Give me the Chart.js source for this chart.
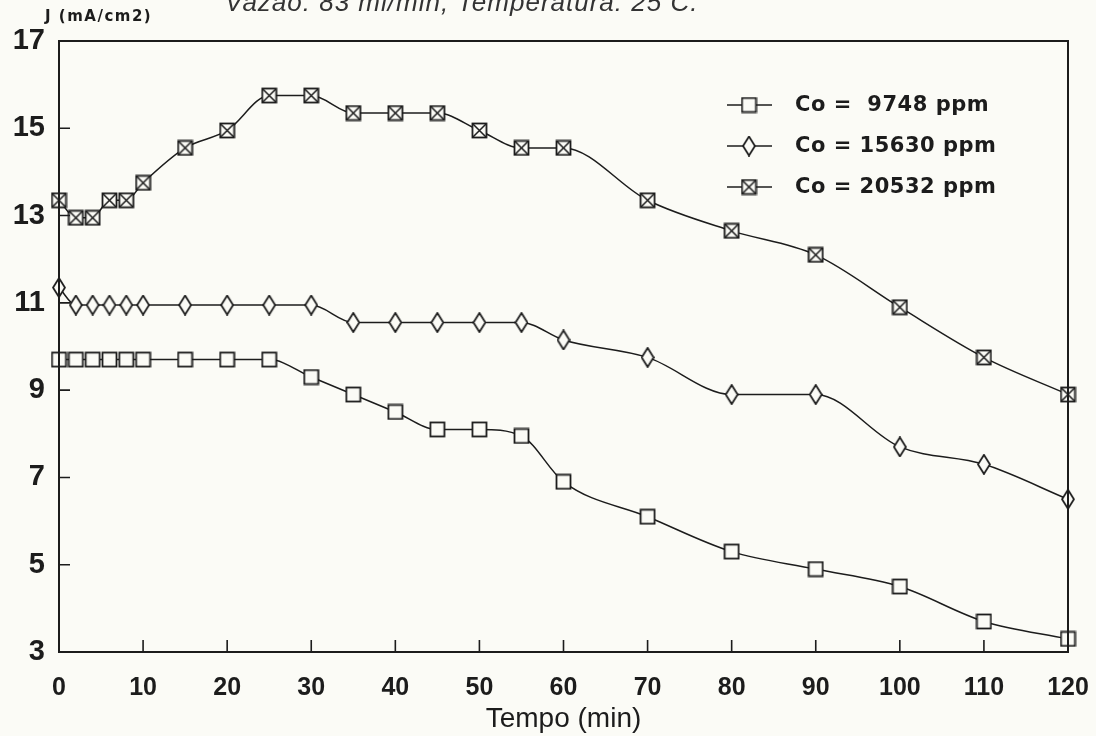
<!DOCTYPE html>
<html>
<head>
<meta charset="utf-8">
<script src="https://cdn.jsdelivr.net/npm/chart.js@4.4.1/dist/chart.umd.min.js"></script>
<style>
  html, body { margin: 0; padding: 0; background: #fbfbf6; }
  #wrap { position: relative; width: 1096px; height: 736px; }
</style>
</head>
<body>
<div id="wrap"><canvas id="jChart" width="1096" height="736"></canvas></div>
<script>
// --- dados ---
const tempo = [0, 2, 4, 6, 8, 10, 15, 20, 25, 30, 35, 40, 45, 50, 55, 60, 70, 80, 90, 100, 110, 120];
const serie9748 = [9.7, 9.7, 9.7, 9.7, 9.7, 9.7, 9.7, 9.7, 9.7, 9.3, 8.9, 8.5, 8.1, 8.1, 7.95, 6.9, 6.1, 5.3, 4.9, 4.5, 3.7, 3.3];
const serie15630 = [11.35, 10.95, 10.95, 10.95, 10.95, 10.95, 10.95, 10.95, 10.95, 10.95, 10.55, 10.55, 10.55, 10.55, 10.55, 10.15, 9.75, 8.9, 8.9, 7.7, 7.3, 6.5];
const serie20532 = [13.35, 12.95, 12.95, 13.35, 13.35, 13.75, 14.55, 14.95, 15.75, 15.75, 15.35, 15.35, 15.35, 14.95, 14.55, 14.55, 13.35, 12.65, 12.1, 10.9, 9.75, 8.9];
const legendas = ['Co =  9748 ppm', 'Co = 15630 ppm', 'Co = 20532 ppm'];
const yTicks = [3, 5, 7, 9, 11, 13, 15, 17];
const xTicks = [0, 10, 20, 30, 40, 50, 60, 70, 80, 90, 100, 110, 120];

const INK = '#1c1c1c';

// --- marcadores desenhados a mao ---
function makeMarker(kind) {
    const c = document.createElement('canvas');
    const w = kind === 'diamond' ? 14 : 17;
    const h = kind === 'diamond' ? 21 : 17;
    c.width = w; c.height = h;
    const g = c.getContext('2d');
    g.strokeStyle = INK;
    g.fillStyle = '#fbfbf6';
    g.lineWidth = 1.8;
    if (kind === 'diamond') {
        g.beginPath();
        g.moveTo(w / 2, 1); g.lineTo(w - 1, h / 2); g.lineTo(w / 2, h - 1); g.lineTo(1, h / 2);
        g.closePath(); g.fill(); g.stroke();
    } else {
        g.fillRect(1.5, 1.5, w - 3, h - 3);
        g.strokeRect(1.5, 1.5, w - 3, h - 3);
        if (kind === 'cross') {
            g.lineWidth = 1.5;
            g.beginPath();
            g.moveTo(2, 2); g.lineTo(w - 2, h - 2);
            g.moveTo(w - 2, 2); g.lineTo(2, h - 2);
            g.stroke();
        }
    }
    return c;
}
const markers = [makeMarker('square'), makeMarker('diamond'), makeMarker('cross')];

function toPoints(ys) {
    return tempo.map((t, i) => ({ x: t, y: ys[i] }));
}

// --- moldura, tracos internos, legenda e textos ---
const framePlugin = {
    id: 'frame',
    afterDatasetsDraw(chart) {
        const { ctx, chartArea: a, scales } = chart;
        ctx.save();
        ctx.strokeStyle = INK;
        ctx.lineWidth = 2;
        ctx.strokeRect(a.left, a.top, a.right - a.left, a.bottom - a.top);

        // tracos para dentro
        ctx.lineWidth = 1.6;
        ctx.beginPath();
        xTicks.slice(1, -1).forEach(v => {
            const x = scales.x.getPixelForValue(v);
            ctx.moveTo(x, a.bottom); ctx.lineTo(x, a.bottom - 12);
        });
        yTicks.slice(1, -1).forEach(v => {
            const y = scales.y.getPixelForValue(v);
            ctx.moveTo(a.left, y); ctx.lineTo(a.left + 11, y);
        });
        ctx.stroke();

        // legenda
        const lx = 727, ly = 105, gap = 41;
        ctx.font = 'bold 21px "DejaVu Sans", sans-serif';
        ctx.letterSpacing = '0.5px';
        ctx.fillStyle = INK;
        ctx.textBaseline = 'middle';
        legendas.forEach((txt, i) => {
            const y = ly + i * gap;
            ctx.lineWidth = 1.4;
            ctx.beginPath(); ctx.moveTo(lx, y); ctx.lineTo(lx + 45, y); ctx.stroke();
            const m = markers[i];
            ctx.drawImage(m, lx + 22 - m.width / 2, y - m.height / 2);
            ctx.fillText(txt, lx + 68, y + 1);
        });

        // rotulo do eixo y
        ctx.font = 'bold 15px "DejaVu Sans", sans-serif';
        ctx.letterSpacing = '1.5px';
        ctx.fillText('J (mA/cm2)', 45, 17);

        // titulo cortado no topo
        ctx.font = 'italic 26px "Liberation Sans", Arial, sans-serif';
        ctx.letterSpacing = '1px';
        ctx.textBaseline = 'alphabetic';
        ctx.fillStyle = '#333';
        ctx.fillText('Vazão: 83 ml/min; Temperatura: 25 C.', 225, 11);
        ctx.restore();
    }
};

const commonDs = {
    borderColor: INK,
    borderWidth: 1.5,
    cubicInterpolationMode: 'monotone',
    clip: false,
    pointRadius: 8,
    pointHoverRadius: 8
};

new Chart(document.getElementById('jChart').getContext('2d'), {
    type: 'line',
    data: {
        datasets: [
            { ...commonDs, label: legendas[0], data: toPoints(serie9748), pointStyle: markers[0] },
            { ...commonDs, label: legendas[1], data: toPoints(serie15630), pointStyle: markers[1] },
            { ...commonDs, label: legendas[2], data: toPoints(serie20532), pointStyle: markers[2] }
        ]
    },
    options: {
        responsive: false,
        animation: false,
        layout: { padding: { top: 41, right: 28, left: 0, bottom: 0 } },
        plugins: { legend: { display: false }, tooltip: { enabled: false } },
        scales: {
            x: {
                type: 'linear', min: 0, max: 120,
                afterBuildTicks: s => { s.ticks = xTicks.map(v => ({ value: v })); },
                afterFit: s => { s.height = 84; s.paddingLeft = 0; s.paddingRight = 0; },
                grid: { display: false, drawTicks: false },
                border: { display: false },
                ticks: { color: INK, padding: 21, font: { family: '"Liberation Sans", Arial', size: 25, weight: 'bold' } },
                title: {
                    display: true, text: 'Tempo (min)', color: INK,
                    padding: { top: 0, bottom: 0 },
                    font: { family: '"Liberation Sans", Arial', size: 28 }
                }
            },
            y: {
                min: 3, max: 17,
                afterBuildTicks: s => { s.ticks = yTicks.map(v => ({ value: v })); },
                afterFit: s => { s.width = 59; s.paddingTop = 0; s.paddingBottom = 0; },
                grid: { display: false, drawTicks: false },
                border: { display: false },
                ticks: { color: INK, padding: 14, font: { family: '"Liberation Sans", Arial', size: 29, weight: 'bold' } }
            }
        }
    },
    plugins: [framePlugin]
});
</script>
</body>
</html>
